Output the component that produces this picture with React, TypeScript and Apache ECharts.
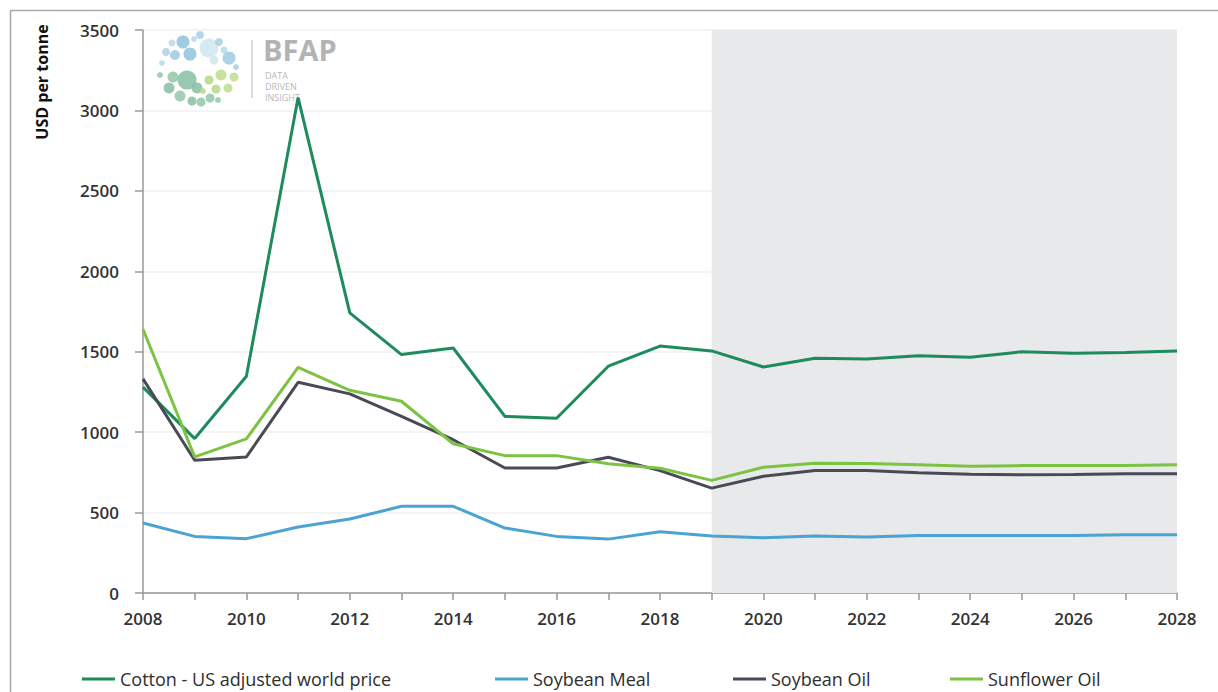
import React, { useEffect, useRef } from "react";
import * as echarts from "echarts";

const years = ["2008","2009","2010","2011","2012","2013","2014","2015","2016","2017","2018","2019","2020","2021","2022","2023","2024","2025","2026","2027","2028"];
const cotton = [1280, 960, 1347, 3080, 1741, 1482, 1523, 1098, 1086, 1410, 1535, 1505, 1405, 1460, 1455, 1475, 1465, 1500, 1490, 1495, 1505];
const soybeanMeal = [435, 352, 338, 410, 460, 539, 539, 404, 352, 335, 381, 354, 344, 354, 348, 358, 358, 358, 358, 362, 362];
const soybeanOil = [1331, 825, 846, 1310, 1238, 1098, 953, 777, 777, 844, 761, 652, 726, 761, 761, 747, 739, 735, 737, 741, 741];
const sunflowerOil = [1640, 846, 958, 1403, 1260, 1192, 928, 854, 854, 803, 776, 700, 782, 807, 805, 797, 788, 792, 792, 792, 798];
const seriesNames = ["Cotton - US adjusted world price", "Soybean Meal", "Soybean Oil", "Sunflower Oil"];
const seriesColors = ["#1d8b5b", "#4aa3d2", "#4a4a56", "#7cc243"];
const projectionStart = "2019";
const projectionEnd = "2028";
const yTicks = { min: 0, max: 3500, interval: 500 };

const FONT = "'Open Sans', sans-serif";

// logo dots: [x, y, r, color]
const logoDots: [number, number, number, string][] = [
  [183, 42, 6.5, "#8fc2dc"], [200, 35, 4, "#a9d0e3"], [209, 48, 9.5, "#cfe6ee"], [190, 54, 6.5, "#8fc2dc"],
  [175, 55, 5, "#9ccae0"], [166, 52, 4, "#a9d0e3"], [229, 58, 6.5, "#9ccae0"], [219, 42, 4, "#a9d0e3"],
  [236, 67, 3, "#a9d0e3"], [162, 63, 3, "#b9d9e8"], [214, 60, 4.5, "#cfe6ee"], [194, 39, 3, "#b9d9e8"],
  [172, 43, 3.5, "#b9d9e8"], [224, 50, 3.5, "#b9d9e8"],
  [187, 80, 9.5, "#86c0a2"], [173, 77, 5.5, "#93c7aa"], [160, 75, 3, "#93c7aa"], [169, 88, 5.5, "#86c0a2"],
  [180, 96, 5.5, "#93c7aa"], [192, 101, 4.5, "#86c0a2"], [201, 102, 4.5, "#93c7aa"], [197, 88, 5.5, "#86c0a2"],
  [210, 98, 4.5, "#93c7aa"], [218, 100, 3, "#93c7aa"],
  [221, 75, 5.5, "#c0dc8e"], [234, 77, 4.5, "#c0dc8e"], [209, 80, 4.5, "#b7d784"], [216, 89, 4.5, "#b7d784"],
  [228, 88, 4.5, "#c0dc8e"], [203, 91, 3, "#b7d784"],
];

export default function App() {
  const ref = useRef<HTMLDivElement>(null);
  useEffect(() => {
    document.body.style.margin = "0";
    const chart = echarts.init(ref.current!, undefined, { renderer: "svg" });
    const dataSets = [cotton, soybeanMeal, soybeanOil, sunflowerOil];
    const legendLefts = [82, 495, 733, 950];
    const option: any = {
      animation: false,
      backgroundColor: "#ffffff",
      textStyle: { fontFamily: FONT },
      grid: { left: 143, right: 41, top: 30, bottom: 99 },
      legend: seriesNames.map((n, i) => ({
        data: [n],
        left: legendLefts[i],
        top: 670,
        padding: 0,
        icon: "rect",
        itemWidth: 33,
        itemHeight: 3,
        textStyle: { fontSize: 18, color: "#2e2e2e", fontFamily: FONT },
      })),
      xAxis: {
        type: "category",
        data: years,
        boundaryGap: false,
        axisLine: { lineStyle: { color: "#999", width: 1.5 } },
        axisTick: { show: true, interval: 0, length: 7, lineStyle: { color: "#999", width: 1.5 } },
        axisLabel: { interval: 1, margin: 17, fontSize: 17, fontWeight: 600, color: "#333", fontFamily: FONT },
        splitLine: { show: false },
      },
      yAxis: {
        type: "value",
        min: yTicks.min,
        max: yTicks.max,
        interval: yTicks.interval,
        axisLine: { show: true, lineStyle: { color: "#999", width: 1.5 } },
        axisTick: { show: true, length: 8, lineStyle: { color: "#999", width: 1.5 } },
        axisLabel: {
          margin: 24,
          fontSize: 17,
          fontWeight: 600,
          color: "#333",
          fontFamily: FONT,
          formatter: (v: number) => String(v),
        },
        splitLine: { show: true, lineStyle: { color: "#f0f0f0", width: 1.5 } },
      },
      series: [
        {
          name: "projection",
          type: "line",
          data: [],
          z: -1,
          silent: true,
          markArea: {
            silent: true,
            itemStyle: { color: "#e8e9eb" },
            data: [[{ xAxis: projectionStart }, { xAxis: projectionEnd }]],
          },
        },
        ...seriesNames.map((n, i) => ({
          name: n,
          type: "line",
          data: dataSets[i],
          symbol: "none",
          z: 3,
          lineStyle: { width: 3, color: seriesColors[i] },
          itemStyle: { color: seriesColors[i] },
        })),
      ],
      graphic: [
        {
          type: "rect",
          shape: { x: 10.5, y: 10.5, width: 1400, height: 900 },
          style: { fill: "none", stroke: "#a8a8a8", lineWidth: 1.5 },
          silent: true,
        },
        {
          type: "text",
          x: 42,
          y: 82,
          rotation: Math.PI / 2,
          style: {
            text: "USD per tonne",
            fontSize: 16,
            fontWeight: "bold",
            fill: "#111",
            fontFamily: FONT,
            align: "center",
            verticalAlign: "middle",
          },
        },
        ...logoDots.map(([x, y, r, c]) => ({
          type: "circle",
          shape: { cx: x, cy: y, r },
          style: { fill: c, opacity: 0.85 },
          silent: true,
        })),
        {
          type: "line",
          shape: { x1: 252, y1: 40, x2: 252, y2: 98 },
          style: { stroke: "#cfcfcf", lineWidth: 1.5 },
        },
        {
          type: "text",
          x: 263,
          y: 49,
          style: {
            text: "BFAP",
            fontSize: 29,
            lineHeight: 22,
            fontWeight: "bold",
            fill: "#b3b3b3",
            fontFamily: FONT,
            verticalAlign: "middle",
          },
        },
        {
          type: "text",
          x: 265,
          y: 75,
          style: { text: "DATA", fontSize: 9, lineHeight: 10, fill: "#b8b8b8", fontFamily: FONT, verticalAlign: "middle" },
        },
        {
          type: "text",
          x: 265,
          y: 86,
          style: { text: "DRIVEN", fontSize: 9, lineHeight: 10, fill: "#b8b8b8", fontFamily: FONT, verticalAlign: "middle" },
        },
        {
          type: "text",
          x: 265,
          y: 97,
          style: { text: "INSIGHT", fontSize: 9, lineHeight: 10, fill: "#b8b8b8", fontFamily: FONT, verticalAlign: "middle" },
        },
      ],
    };
    chart.setOption(option);
    return () => chart.dispose();
  }, []);
  return <div ref={ref} style={{ width: 1218, height: 692 }} />;
}
